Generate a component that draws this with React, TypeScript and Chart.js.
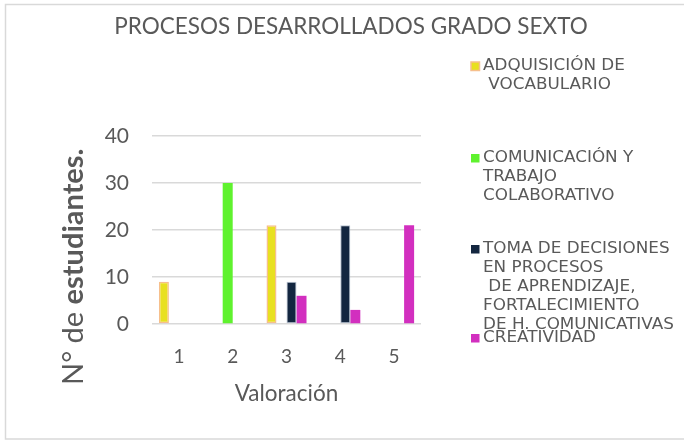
import React, { useEffect, useRef } from "react";
import { Chart, registerables } from "chart.js";

Chart.register(...registerables);

const title = "PROCESOS DESARROLLADOS GRADO SEXTO";
const categories = ["1", "2", "3", "4", "5"];
const yTicks = [0, 10, 20, 30, 40];
const xTitle = "Valoración";
const yTitleNormal = "N° de ";
const yTitleBold = "estudiantes.";

const seriesLabels = [
  ["ADQUISICIÓN DE", " VOCABULARIO"],
  ["COMUNICACIÓN Y", "TRABAJO", "COLABORATIVO"],
  ["TOMA DE DECISIONES", "EN PROCESOS", " DE APRENDIZAJE,", "FORTALECIMIENTO", "DE H. COMUNICATIVAS"],
  ["CREATIVIDAD"],
];
const adquisicion = [9, null, 21, null, null];
const comunicacion = [null, 30, null, null, null];
const tomaDecisiones = [null, null, 9, 21, null];
const creatividad = [null, null, 6, 3, 21];

const fills = ["#e8e020", "#5ff22e", "#132640", "#d22fbf"];
const borders = ["#f6bf8c", "#5ff22e", "#b8c3d2", "#d22fbf"];
const borderWidths = [1.5, 0, 1, 0];

const TEXT = "#595959";

const decorPlugin = {
  id: "decor",
  beforeDraw(chart: any) {
    const ctx = chart.ctx;
    ctx.save();
    ctx.fillStyle = "#ffffff";
    ctx.fillRect(0, 0, chart.width, chart.height);
    ctx.strokeStyle = "#d9d9d9";
    ctx.lineWidth = 1.5;
    ctx.strokeRect(5.5, 4.5, 720, 434.5);
    ctx.restore();
  },
  afterDraw(chart: any) {
    const ctx = chart.ctx;
    const area = chart.chartArea;
    ctx.save();
    ctx.fillStyle = TEXT;
    // title
    ctx.font = "22.5px Lato";
    ctx.textAlign = "center";
    ctx.textBaseline = "alphabetic";
    ctx.fillText(title, 351, 34);
    // x title
    ctx.font = "22.5px Lato";
    ctx.fillText(xTitle, (area.left + area.right) / 2, 401);
    // y title (mixed weights)
    ctx.save();
    ctx.translate(83, 385);
    ctx.rotate(-Math.PI / 2);
    ctx.textAlign = "left";
    ctx.font = "29px Lato";
    const w1 = ctx.measureText(yTitleNormal).width;
    ctx.fillText(yTitleNormal, 0, 0);
    ctx.font = "bold 29px Lato";
    ctx.fillText(yTitleBold, w1, 0);
    ctx.restore();
    // legend
    const itemY = [66, 158, 249, 338];
    const lineH = 19;
    ctx.textAlign = "left";
    ctx.textBaseline = "middle";
    chart.data.datasets.forEach((ds: any, i: number) => {
      const y = itemY[i];
      ctx.fillStyle = ds.backgroundColor;
      ctx.fillRect(471, y - 4, 8.5, 8.5);
      if (ds.borderWidth > 1) {
        ctx.strokeStyle = ds.borderColor;
        ctx.lineWidth = 1.5;
        ctx.strokeRect(471, y - 4, 8.5, 8.5);
      }
      ctx.fillStyle = TEXT;
      ctx.font = "16px 'DejaVu Sans'";
      const lines: string[] = seriesLabels[i];
      lines.forEach((ln, j) => {
        ctx.save();
        ctx.translate(483, y + j * lineH);
        ctx.scale(1.05, 1);
        ctx.fillText(ln, 0, 0);
        ctx.restore();
      });
    });
    ctx.restore();
  },
};

export default function App() {
  const ref = useRef<HTMLCanvasElement | null>(null);
  useEffect(() => {
    if (!ref.current) return;
    const data = [adquisicion, comunicacion, tomaDecisiones, creatividad];
    const chart = new Chart(ref.current, {
      type: "bar",
      data: {
        labels: categories,
        datasets: data.map((d, i) => ({
          label: seriesLabels[i].map((s) => s.trim()).join(" "),
          data: d as any,
          backgroundColor: fills[i],
          borderColor: borders[i],
          borderWidth: borderWidths[i],
          borderSkipped: false,
          categoryPercentage: 0.744,
          barPercentage: 1,
        })),
      },
      options: {
        responsive: false,
        animation: false,
        devicePixelRatio: 1,
        layout: { padding: { top: 136, left: 0, right: 263, bottom: 0 } },
        plugins: {
          legend: { display: false },
          title: { display: false },
          tooltip: { enabled: false },
        },
        scales: {
          x: {
            grid: { display: false },
            border: { display: false },
            ticks: { color: TEXT, font: { family: "Lato", size: 19 }, padding: 13 },
            afterFit: (s: any) => {
              s.height = 116;
            },
          },
          y: {
            min: yTicks[0],
            max: yTicks[yTicks.length - 1],
            ticks: {
              stepSize: 10,
              color: TEXT,
              font: { family: "Lato", size: 21 },
              padding: 23,
            },
            grid: { color: "#d9d9d9", lineWidth: 1.5, drawTicks: false },
            border: { display: false },
            afterFit: (s: any) => {
              s.width = 152;
            },
          },
        },
      },
      plugins: [decorPlugin],
    });
    return () => chart.destroy();
  }, []);
  return (
    <div style={{ position: "fixed", left: 0, top: 0, width: 684, height: 440, background: "#fff" }}>
      <canvas ref={ref} width={684} height={440} style={{ display: "block" }} />
    </div>
  );
}
